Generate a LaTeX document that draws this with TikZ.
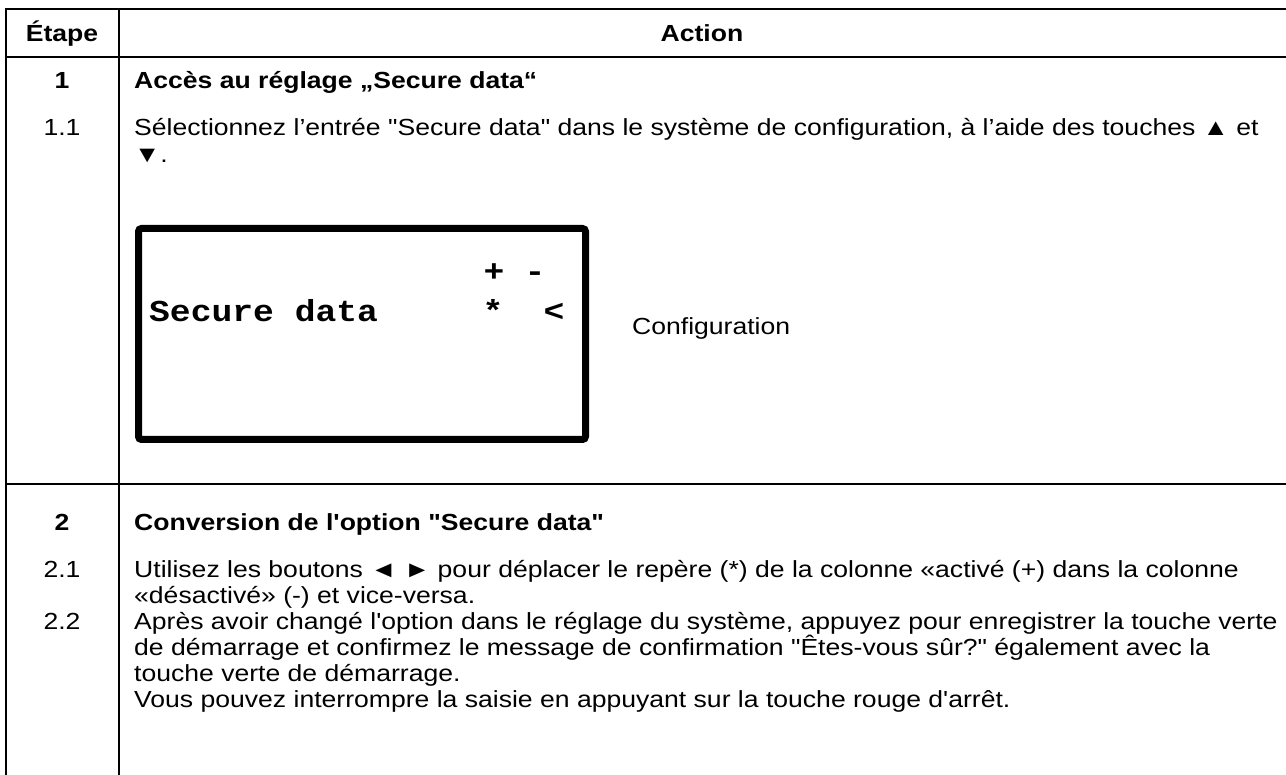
\documentclass[tikz,border=0pt]{standalone}
\usepackage{fontspec}
\newfontfamily\bodyfont{Liberation Sans}[FakeStretch=1.14]
\newfontfamily\lcdfont{Liberation Mono}[FakeStretch=1.14]

\begin{document}
\begin{tikzpicture}[x=1pt,y=-1pt,
  hrule/.style={line width=2.6pt},
  vrule/.style={line width=2.2pt},
  body/.style={inner sep=0pt, font=\bodyfont\fontsize{23.3}{27}\selectfont},
  line/.style={body, anchor=base west},
  boldline/.style={body, anchor=base west, font=\bodyfont\bfseries\fontsize{23.3}{27}\selectfont},
  stepno/.style={body, anchor=base},
  boldstepno/.style={body, anchor=base, font=\bodyfont\bfseries\fontsize{23.3}{27}\selectfont},
  lcdframe/.style={line width=7pt, rounded corners=3pt},
  lcdchar/.style={inner sep=0pt, anchor=base, font=\lcdfont\bfseries\fontsize{30.4}{36}\selectfont},
  lcdline/.style={lcdchar, anchor=base west}
]
\useasboundingbox (0,0) rectangle (1286,775);

% table rules
\draw[hrule] (5,9) -- (1286,9);
\draw[hrule] (5,57) -- (1286,57);
\draw[hrule] (5,484) -- (1286,484);
\draw[vrule] (6,8) -- (6,775);
\draw[vrule] (119,8) -- (119,775);

% header
\node[boldstepno] (hstep) at (62,42) {Étape};
\node[boldstepno] (haction) at (702,42) {Action};

% step 1
\node[boldstepno] (s1) at (62,89) {1};
\node[boldline] (t1) at (134,89) {Accès au réglage „Secure data“};
\node[stepno] (s11) at (62,136) {1.1};
\node[line] (t11a) at (134,136) {Sélectionnez l’entrée "Secure data" dans le système de configuration, à l’aide des touches ▲ et};
\node[line] (t11b) at (134,163) {▼.};

% display
\draw[lcdframe] (138.5,228.5) rectangle (585.5,439.5);
\node[lcdline] (lcdname) at (149,322) {Secure data};
\node[lcdchar] (lcdplus) at (494,282) {+};
\node[lcdchar] (lcdminus) at (535,282) {-};
\node[lcdchar] (lcdstar) at (493,322) {*};
\node[lcdchar] (lcdcursor) at (554,322) {<};
\node[line] (menu) at (632,335) {Configuration};

% step 2
\node[boldstepno] (s2) at (62,530) {2};
\node[boldline] (t2) at (134,530) {Conversion de l'option "Secure data"};
\node[stepno] (s21) at (62,577) {2.1};
\node[line] (t21a) at (134,577) {Utilisez les boutons ◄ ► pour déplacer le repère (*) de la colonne «activé (+) dans la colonne};
\node[line] (t21b) at (134,603) {«désactivé» (-) et vice-versa.};
\node[stepno] (s22) at (62,629) {2.2};
\node[line] (t22a) at (134,629) {Après avoir changé l'option dans le réglage du système, appuyez pour enregistrer la touche verte};
\node[line] (t22b) at (134,655) {de démarrage et confirmez le message de confirmation "Êtes-vous sûr?" également avec la};
\node[line] (t22c) at (134,681) {touche verte de démarrage.};
\node[line] (t22d) at (134,707) {Vous pouvez interrompre la saisie en appuyant sur la touche rouge d'arrêt.};
\end{tikzpicture}
\end{document}
